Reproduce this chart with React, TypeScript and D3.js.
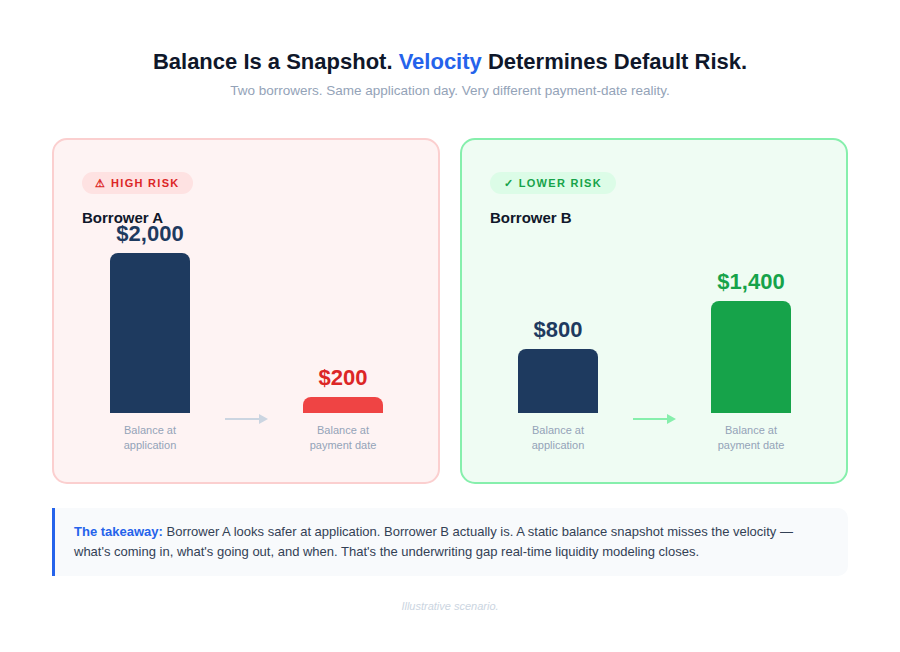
import * as d3 from "d3";

const stages = ["Balance at application", "Balance at payment date"];
const borrowers = ["Borrower A", "Borrower B"];
const borrowerA = [2000, 200];
const borrowerB = [800, 1400];
const badges = ["⚠ HIGH RISK", "✓ LOWER RISK"];

const FONT = "'Liberation Sans', Arial, Helvetica, sans-serif";

const themes = [
  {
    fill: "#fef3f3",
    stroke: "#fbcfcf",
    badgeFill: "#fee2e2",
    badgeText: "#dc2626",
    barColors: ["#1e3a5f", "#ef4444"],
    labelColors: ["#1e3a5f", "#dc2626"],
    arrow: "#cbd5e1",
    badgeWidth: 111,
  },
  {
    fill: "#effcf3",
    stroke: "#86efac",
    badgeFill: "#dcfce7",
    badgeText: "#16a34a",
    barColors: ["#1e3a5f", "#16a34a"],
    labelColors: ["#1e3a5f", "#16a34a"],
    arrow: "#86efac",
    badgeWidth: 126,
  },
];

const panelX = d3.scaleOrdinal<string, number>().domain(borrowers).range([53, 461]);
const panelW = 386;
const panelTop = 139;
const panelH = 344;

const x = d3.scalePoint<string>().domain(stages).range([97, 290]);
const y = d3.scaleLinear().domain([0, 2000]).range([413, 253]);
const barW = 80;

function topRoundedBar(x0: number, y0: number, w: number, h: number, r: number) {
  const rr = Math.min(r, h / 2, w / 2);
  const p = d3.path();
  p.moveTo(x0, y0 + h);
  p.lineTo(x0, y0 + rr);
  p.arcTo(x0, y0, x0 + rr, y0, rr);
  p.lineTo(x0 + w - rr, y0);
  p.arcTo(x0 + w, y0, x0 + w, y0 + rr, rr);
  p.lineTo(x0 + w, y0 + h);
  p.closePath();
  return p.toString();
}

const fmt = (v: number) => "$" + d3.format(",")(v);

function splitLabel(s: string) {
  const i = s.indexOf(" at ");
  return [s.slice(0, i + 3), s.slice(i + 4)];
}

function Panel({ idx, values }: { idx: number; values: number[] }) {
  const t = themes[idx];
  const ox = panelX(borrowers[idx]);
  const c0 = x(stages[0]) ?? 0;
  const c1 = x(stages[1]) ?? 0;
  const ay = 419;
  return (
    <g transform={`translate(${ox},0)`}>
      <rect x={0} y={panelTop} width={panelW} height={panelH} rx={14} fill={t.fill} stroke={t.stroke} strokeWidth={2} />
      <rect x={29} y={172} width={t.badgeWidth} height={22} rx={11} fill={t.badgeFill} />
      <text x={29 + t.badgeWidth / 2} y={187} textAnchor="middle" fontSize={11} fontWeight={700} letterSpacing={1.3} fill={t.badgeText}>
        {badges[idx]}
      </text>
      <text x={29} y={223} fontSize={15} fontWeight={700} fill="#0f172a">
        {borrowers[idx]}
      </text>
      {values.map((v, i) => {
        const cx = x(stages[i]) ?? 0;
        const top = y(v);
        const [l1, l2] = splitLabel(stages[i]);
        return (
          <g key={i}>
            <path d={topRoundedBar(cx - barW / 2, top, barW, y(0) - top, 8)} fill={t.barColors[i]} />
            <text x={cx} y={top - 12} textAnchor="middle" fontSize={22} fontWeight={700} fill={t.labelColors[i]}>
              {fmt(v)}
            </text>
            <text x={cx} y={434} textAnchor="middle" fontSize={11} fill="#94a3b8">
              {l1}
            </text>
            <text x={cx} y={449} textAnchor="middle" fontSize={11} fill="#94a3b8">
              {l2}
            </text>
          </g>
        );
      })}
      <line x1={c0 + 75} x2={c1 - 83} y1={ay} y2={ay} stroke={t.arrow} strokeWidth={2} />
      <path d={`M${c1 - 84},${ay - 5} L${c1 - 75},${ay} L${c1 - 84},${ay + 5} Z`} fill={t.arrow} />
    </g>
  );
}

export default function App() {
  return (
    <svg width={900} height={652} style={{ position: "absolute", left: 0, top: 0, fontFamily: FONT }}>
      <rect width={900} height={652} fill="#ffffff" />
      <text x={450} y={69} textAnchor="middle" fontSize={22} fontWeight={700} fill="#0f172a">
        Balance Is a Snapshot. <tspan fill="#2563eb">Velocity</tspan> Determines Default Risk.
      </text>
      <text x={450} y={95} textAnchor="middle" fontSize={13.5} fill="#94a3b8">
        Two borrowers. Same application day. Very different payment-date reality.
      </text>

      <Panel idx={0} values={borrowerA} />
      <Panel idx={1} values={borrowerB} />

      <path d="M52,508 H838 A10,10 0 0 1 848,518 V566 A10,10 0 0 1 838,576 H52 Z" fill="#f8fafc" />
      <rect x={52} y={508} width={3} height={68} fill="#2563eb" />
      <text x={74} y={536} fontSize={13} fill="#334155">
        <tspan fontWeight={700} fill="#2563eb">The takeaway:</tspan> Borrower A looks safer at application. Borrower B actually is. A static balance snapshot misses the velocity —
      </text>
      <text x={74} y={556} fontSize={13} fill="#334155">
        what's coming in, what's going out, and when. That's the underwriting gap real-time liquidity modeling closes.
      </text>
      <text x={450} y={610} textAnchor="middle" fontSize={11} fontStyle="italic" fill="#cbd5e1">
        Illustrative scenario.
      </text>
    </svg>
  );
}
